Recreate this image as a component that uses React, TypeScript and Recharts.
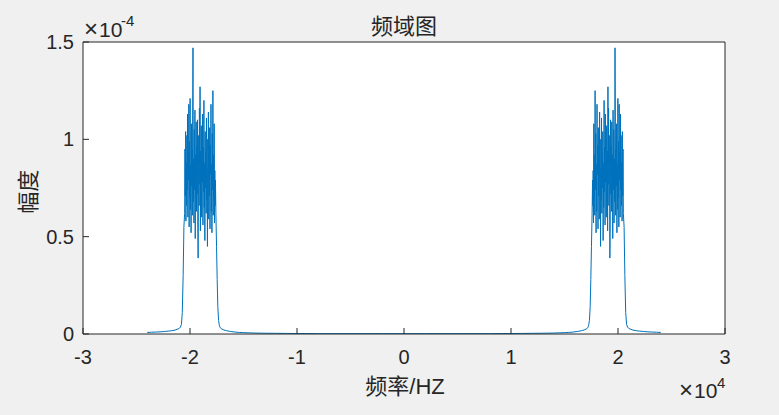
import React from 'react';
import { LineChart, Line, XAxis, YAxis, CartesianGrid } from 'recharts';

// frequency in units of 1e4 Hz, amplitude in units of 1e-4
const xTicks = [-3, -2, -1, 0, 1, 2, 3];
const yTicks = [0, 0.5, 1, 1.5];

// left outer tail + rising edge
const outerFreq = [-2.4, -2.36, -2.32, -2.28, -2.24, -2.2, -2.17, -2.14, -2.12, -2.1, -2.09, -2.08, -2.072, -2.064, -2.057];
const outerAmp = [0.008, 0.009, 0.01, 0.011, 0.013, 0.015, 0.017, 0.02, 0.024, 0.029, 0.035, 0.05, 0.11, 0.3, 0.55];

// noisy band, evenly spaced bins
const bandStart = -2.05;
const bandStep = 0.003;
const bandAmp = [
  0.62, 0.95, 0.71, 1.04, 0.58, 0.88, 0.66, 1.02, 0.74, 1.13,
  0.6, 0.93, 0.79, 1.18, 0.55, 0.99, 0.7, 1.21, 0.64, 0.87,
  0.52, 1.08, 0.76, 0.95, 0.61, 1.12, 1.47, 0.68, 0.9, 0.57,
  1.05, 0.74, 1.15, 0.49, 0.92, 0.81, 1.09, 0.63, 0.97, 0.72,
  1.1, 0.58, 0.39, 0.86, 1.02, 0.66, 1.16, 0.77, 1.27, 0.53,
  0.94, 0.7, 1.07, 0.6, 0.89, 0.78, 1.13, 0.56, 0.96, 0.73,
  1.2, 0.65, 0.88, 0.48, 1.04, 0.75, 0.93, 0.62, 1.11, 0.69,
  0.85, 0.45, 1.0, 0.8, 1.14, 0.59, 0.91, 0.71, 1.06, 0.54,
  0.97, 0.82, 1.18, 0.63, 0.87, 0.52, 1.03, 0.74, 1.25, 0.61,
  0.92, 0.7, 1.08, 0.57, 0.84, 0.66, 0.79,
];

// falling edge
const edgeFreq = [-1.758, -1.752, -1.746, -1.74, -1.733, -1.726, -1.72];
const edgeAmp = [0.62, 0.45, 0.28, 0.14, 0.07, 0.045, 0.035];

// inner tail down to 0 Hz
const innerFreq = [-1.71, -1.69, -1.66, -1.62, -1.58, -1.54, -1.5, -1.45, -1.4, -1.3, -1.2, -1.1, -1.0, -0.8, -0.6, -0.4, -0.2, 0];
const innerAmp = [0.028, 0.022, 0.017, 0.013, 0.01, 0.008, 0.007, 0.006, 0.005, 0.004, 0.0035, 0.003, 0.0025, 0.002, 0.002, 0.002, 0.002, 0.002];

const left = [
  ...outerFreq.map((f, i) => ({ f, a: outerAmp[i] })),
  ...bandAmp.map((a, i) => ({ f: +(bandStart + i * bandStep).toFixed(4), a })),
  ...edgeFreq.map((f, i) => ({ f, a: edgeAmp[i] })),
  ...innerFreq.map((f, i) => ({ f, a: innerAmp[i] })),
];
// spectrum of a real signal is symmetric
const right = left.slice(0, -1).reverse().map((p) => ({ f: -p.f, a: p.a }));
const data = [...left, ...right];

const ink = '#262626';
const latin = '"Liberation Sans", Arial, "Noto Sans CJK SC", sans-serif';

export default function App() {
  return (
    <div style={{ position: 'absolute', left: 0, top: 0, width: 779, height: 415, background: '#f0f0f0' }}>
      <LineChart width={779} height={415} data={data} margin={{ top: 32, right: 44, bottom: 41, left: 23 }}>
        <CartesianGrid horizontal={false} vertical={false} fill="#ffffff" fillOpacity={1} />
        <XAxis
          dataKey="f"
          type="number"
          domain={[-3, 3]}
          ticks={xTicks}
          allowDataOverflow
          height={40}
          stroke={ink}
          tickSize={-6}
          tickMargin={22}
          tick={{ fill: ink, fontSize: 20, fontFamily: latin }}
        />
        <XAxis xAxisId="top" orientation="top" dataKey="f" type="number" domain={[-3, 3]} ticks={xTicks} height={10} stroke={ink} tickSize={-6} tick={false} />
        <YAxis
          type="number"
          domain={[0, 1.5]}
          ticks={yTicks}
          allowDataOverflow
          width={60}
          stroke={ink}
          tickSize={-6}
          tickMargin={15}
          tick={{ fill: ink, fontSize: 20, fontFamily: latin }}
        />
        <YAxis yAxisId="right" orientation="right" type="number" domain={[0, 1.5]} ticks={yTicks} width={10} stroke={ink} tickSize={-6} tick={false} />
        <Line type="linear" dataKey="a" stroke="#0072bd" strokeWidth={1} dot={false} isAnimationActive={false} />
      </LineChart>
      <svg width={779} height={415} style={{ position: 'absolute', left: 0, top: 0, pointerEvents: 'none' }}>
        <g fill={ink} fontFamily={latin}>
          <text x={404} y={34} fontSize={22} textAnchor="middle">频域图</text>
          <text x={405} y={394} fontSize={22} textAnchor="middle">频率/HZ</text>
          <text transform="translate(28,191.7) rotate(-90)" y={8} fontSize={22} textAnchor="middle">幅度</text>
          {/* exponent of the y axis */}
          <text x={84} y={37} fontSize={24} fontWeight={300}>×</text>
          <text x={99} y={37} fontSize={21}>10</text>
          <text x={121} y={26} fontSize={15}>-4</text>
          {/* exponent of the x axis */}
          <text x={679} y={398} fontSize={24} fontWeight={300}>×</text>
          <text x={694} y={398} fontSize={21}>10</text>
          <text x={717} y={388} fontSize={15}>4</text>
        </g>
      </svg>
    </div>
  );
}
